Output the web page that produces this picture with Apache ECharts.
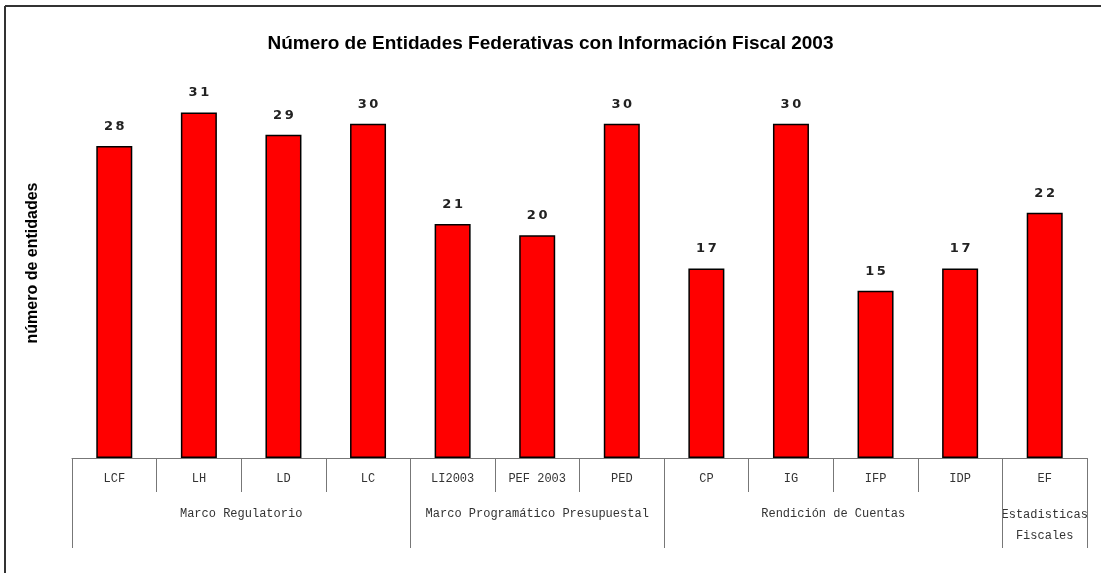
<!DOCTYPE html>
<html>
<head>
<meta charset="utf-8">
<script src="https://cdn.jsdelivr.net/npm/echarts@6/dist/echarts.min.js"></script>
<style>
  html, body { margin: 0; padding: 0; background: #fff; }
  #chart { width: 1101px; height: 573px; }
</style>
</head>
<body>
<div id="chart"></div>
<script>
  const categories = ["LCF", "LH", "LD", "LC", "LI2003", "PEF 2003", "PED", "CP", "IG", "IFP", "IDP", "EF"];
  const values = [28, 31, 29, 30, 21, 20, 30, 17, 30, 15, 17, 22];
  // groups: label and how many categories each spans
  const groupNames = ["Marco Regulatorio", "Marco Programático Presupuestal", "Rendición de Cuentas", "Estadisticas\nFiscales"];
  const groupSizes = [4, 3, 4, 1];

  const labelFont = "'Liberation Mono', 'DejaVu Sans Mono', monospace";

  const chart = echarts.init(document.getElementById("chart"));

  chart.setOption({
    animation: false,
    title: {
      text: "Número de Entidades Federativas con Información Fiscal 2003",
      left: "center",
      top: 29,
      textStyle: {
        fontFamily: "'Liberation Sans', Arial, sans-serif",
        fontSize: 19,
        fontWeight: "bold",
        color: "#000",
      },
    },
    grid: {
      left: 72,
      right: 14,
      top: 68,
      bottom: 115,
    },
    xAxis: {
      type: "category",
      data: categories,
      axisLine: { lineStyle: { color: "#777", width: 1 } },
      axisTick: { show: true, interval: 0, length: 34, lineStyle: { color: "#777" } },
      axisLabel: {
        interval: 0,
        margin: 15,
        fontFamily: labelFont,
        fontSize: 12,
        color: "#333",
      },
    },
    yAxis: {
      type: "value",
      min: 0,
      max: 35,
      name: "número de entidades",
      nameLocation: "middle",
      nameRotate: 90,
      nameGap: 31,
      nameTextStyle: {
        fontFamily: "'Liberation Sans Narrow', 'Liberation Sans', Arial, sans-serif",
        fontSize: 16,
        fontWeight: "bold",
        color: "#000",
      },
      axisLine: { show: false },
      axisTick: { show: false },
      axisLabel: { show: false },
      splitLine: { show: false },
    },
    series: [
      {
        type: "bar",
        data: values,
        barWidth: 36,
        itemStyle: { color: "#ff0000", borderColor: "#000", borderWidth: 1.5 },
        label: {
          show: true,
          position: "top",
          distance: 13,
          fontFamily: "'DejaVu Sans', sans-serif",
          fontWeight: "bold",
          fontSize: 13,
          color: "#222",
          formatter: (p) => String(p.value).split("").join("\u2009"),
        },
      },
    ],
  });

  // group labels and separators, positioned through the category axis
  const axisY = chart.convertToPixel({ gridIndex: 0 }, [0, 0])[1];
  const bandW = chart.convertToPixel({ xAxisIndex: 0 }, 1) - chart.convertToPixel({ xAxisIndex: 0 }, 0);
  const edge = (i) => chart.convertToPixel({ xAxisIndex: 0 }, 0) - bandW / 2 + i * bandW;

  const graphics = [
    // outer frame (top and left only, as in the picture)
    { type: "line", shape: { x1: 5, y1: 6, x2: 1101, y2: 6 }, style: { stroke: "#333", lineWidth: 2 } },
    { type: "line", shape: { x1: 5, y1: 6, x2: 5, y2: 573 }, style: { stroke: "#333", lineWidth: 2 } },
  ];

  let start = 0;
  const bounds = [0];
  groupNames.forEach((name, gi) => {
    const end = start + groupSizes[gi];
    const cx = (edge(start) + edge(end)) / 2;
    const multi = name.includes("\n");
    graphics.push({
      type: "text",
      x: cx,
      y: axisY + 56 + (multi ? 11 : 0),
      style: {
        text: name,
        fontFamily: labelFont,
        fontSize: 12,
        lineHeight: 21,
        fill: "#333",
        align: "center",
        verticalAlign: "middle",
      },
    });
    bounds.push(end);
    start = end;
  });

  bounds.forEach((b) => {
    const x = Math.round(edge(b)) + 0.5;
    graphics.push({
      type: "line",
      shape: { x1: x, y1: axisY + 34, x2: x, y2: axisY + 90 },
      style: { stroke: "#777", lineWidth: 1 },
    });
  });

  chart.setOption({ graphic: graphics });
</script>
</body>
</html>
